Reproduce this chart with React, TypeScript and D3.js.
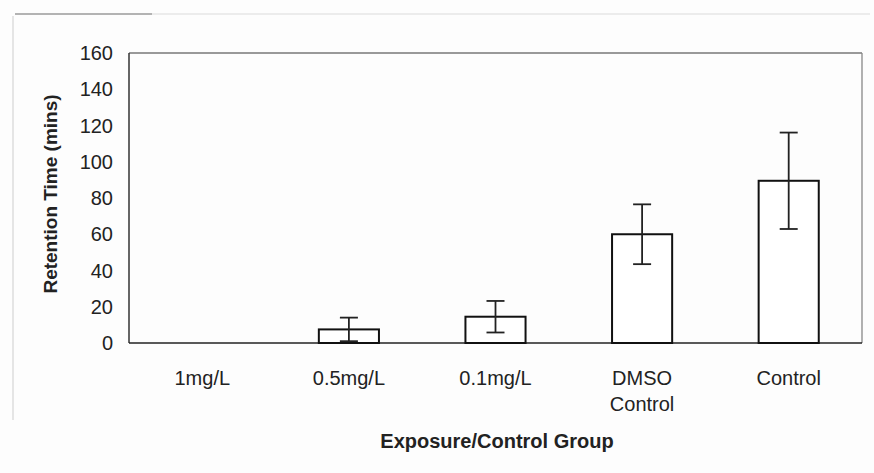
import React from "react";
import * as d3 from "d3";

const categories = ["1mg/L", "0.5mg/L", "0.1mg/L", "DMSO\nControl", "Control"];
const means = [0, 7.5, 14.5, 60, 89.5];
const errors = [0, 6.5, 8.7, 16.5, 26.6];
const yTicks = [0, 20, 40, 60, 80, 100, 120, 140, 160];

const W = 874;
const H = 473;
const M = { left: 129, right: 862, top: 53, bottom: 343 };

export default function App() {
  const x = d3
    .scaleBand<string>()
    .domain(categories)
    .range([M.left, M.right])
    .paddingInner(0.59)
    .paddingOuter(0.295);
  const y = d3.scaleLinear().domain([0, 160]).range([M.bottom, M.top]);
  const font = "'Liberation Sans', Arial, sans-serif";
  const capW = 9;

  return (
    <svg
      width={W}
      height={H}
      style={{ position: "absolute", left: 0, top: 0, background: "#fdfdfd" }}
      fontFamily={font}
    >
      {/* scan artifacts */}
      <line x1={15} x2={152} y1={14} y2={14} stroke="#9a9a9a" strokeWidth={1.5} />
      <line x1={152} x2={870} y1={14} y2={14} stroke="#e6e6e6" strokeWidth={1.5} />
      <line x1={13} x2={13} y1={16} y2={420} stroke="#dcdcdc" strokeWidth={1.5} />

      {/* plot frame */}
      <line x1={M.left} x2={M.right} y1={M.top} y2={M.top} stroke="#777" strokeWidth={1.3} />
      <line x1={M.right} x2={M.right} y1={M.top} y2={M.bottom} stroke="#888" strokeWidth={1.3} />
      <line x1={M.left} x2={M.left} y1={M.top} y2={M.bottom} stroke="#333" strokeWidth={1.5} />
      <line x1={M.left} x2={M.right} y1={M.bottom} y2={M.bottom} stroke="#222" strokeWidth={1.5} />

      {/* y tick labels */}
      {yTicks.map((t) => (
        <text
          key={t}
          x={113}
          y={y(t)}
          dy="0.36em"
          textAnchor="end"
          fontSize={20}
          fill="#222"
        >
          {t}
        </text>
      ))}

      {/* bars */}
      {categories.map((c, i) => {
        const bx = x(c)!;
        const bw = x.bandwidth();
        const cx = bx + bw / 2;
        return (
          <g key={c}>
            {means[i] > 0 && (
              <rect
                x={bx}
                y={y(means[i])}
                width={bw}
                height={y(0) - y(means[i])}
                fill="#fff"
                stroke="#111"
                strokeWidth={2}
              />
            )}
            {errors[i] > 0 && (
              <g stroke="#222" strokeWidth={1.8}>
                <line x1={cx} x2={cx} y1={y(means[i] + errors[i])} y2={y(means[i] - errors[i])} />
                <line x1={cx - capW} x2={cx + capW} y1={y(means[i] + errors[i])} y2={y(means[i] + errors[i])} />
                <line x1={cx - capW} x2={cx + capW} y1={y(means[i] - errors[i])} y2={y(means[i] - errors[i])} />
              </g>
            )}
          </g>
        );
      })}

      {/* category labels */}
      {categories.map((c) => {
        const cx = x(c)! + x.bandwidth() / 2;
        return (
          <text key={c} x={cx} y={385} textAnchor="middle" fontSize={20} fill="#222">
            {c.split("\n").map((line, j) => (
              <tspan key={j} x={cx} dy={j === 0 ? 0 : 26}>
                {line}
              </tspan>
            ))}
          </text>
        );
      })}

      {/* axis titles */}
      <text x={497} y={448} textAnchor="middle" fontSize={20} fontWeight="bold" fill="#222">
        Exposure/Control Group
      </text>
      <text
        transform={`translate(57, 194) rotate(-90)`}
        textAnchor="middle"
        fontSize={19}
        fontWeight="bold"
        fill="#222"
      >
        Retention Time (mins)
      </text>
    </svg>
  );
}
